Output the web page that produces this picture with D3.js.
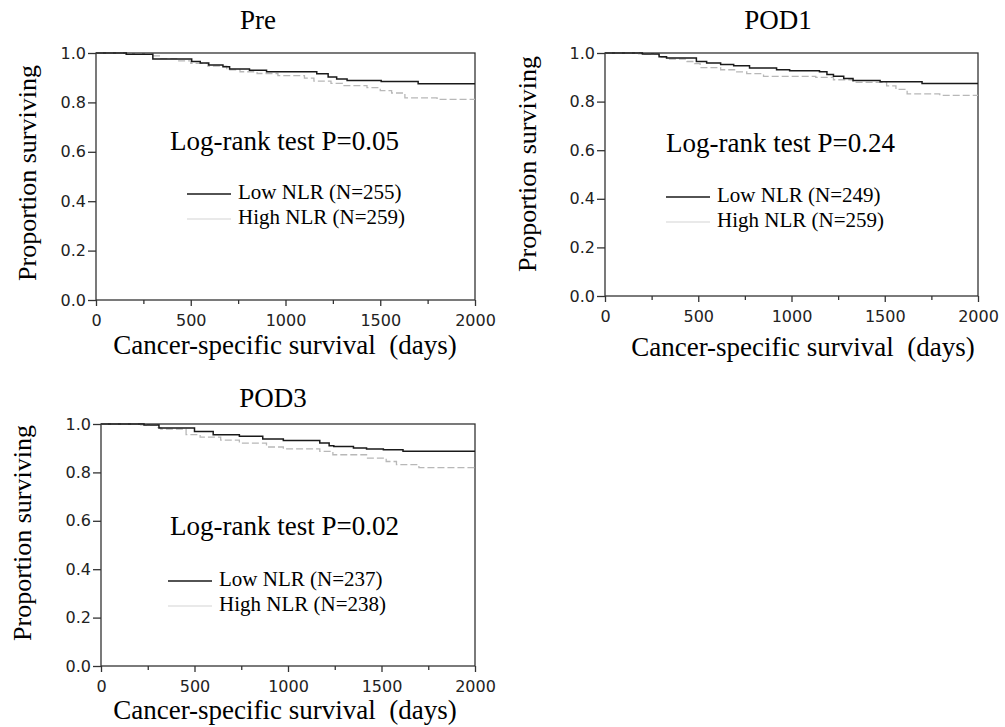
<!DOCTYPE html>
<html>
<head>
<meta charset="utf-8">
<script src="https://cdn.jsdelivr.net/npm/d3@7"></script>
<style>
body { margin: 0; background: #fff; }
</style>
</head>
<body>
<script>
// panel labels and stats
var panelTitles = ['Pre', 'POD1', 'POD3'];
var pValues = ['0.05', '0.24', '0.02'];
var lowN = [255, 249, 237];
var highN = [259, 259, 238];
var xTicks = [0, 500, 1000, 1500, 2000];
var xMinorTicks = [250, 750, 1250, 1750];
var yTicks = [0, 0.2, 0.4, 0.6, 0.8, 1.0];

// Kaplan-Meier steps: [day, proportion surviving]
var preLow = [[0,1],[160,0.995],[300,0.976],[505,0.966],[550,0.96],[595,0.951],[670,0.944],[705,0.935],[810,0.93],[900,0.924],[1165,0.916],[1225,0.903],[1270,0.895],[1325,0.889],[1505,0.885],[1700,0.876],[2000,0.876]];
var preHigh = [[0,1],[150,0.996],[290,0.988],[340,0.977],[430,0.968],[500,0.958],[590,0.947],[690,0.932],[760,0.924],[850,0.917],[960,0.908],[1100,0.898],[1150,0.886],[1240,0.877],[1300,0.868],[1430,0.86],[1500,0.848],[1560,0.838],[1630,0.818],[1800,0.812],[2000,0.812]];
var pod1Low = [[0,1],[200,0.996],[290,0.985],[330,0.979],[490,0.965],[545,0.959],[620,0.953],[690,0.948],[775,0.938],[920,0.931],[990,0.927],[1150,0.923],[1190,0.912],[1225,0.904],[1280,0.895],[1330,0.887],[1475,0.882],[1700,0.874],[2000,0.874]];
var pod1High = [[0,1],[180,0.996],[290,0.982],[330,0.975],[440,0.965],[480,0.956],[510,0.94],[620,0.931],[700,0.922],[760,0.915],[850,0.904],[1130,0.9],[1225,0.89],[1330,0.879],[1510,0.865],[1560,0.85],[1620,0.832],[1795,0.826],[2000,0.826]];
var pod3Low = [[0,1],[230,0.996],[310,0.983],[500,0.969],[600,0.956],[740,0.949],[865,0.938],[975,0.932],[1170,0.921],[1220,0.91],[1245,0.907],[1350,0.901],[1420,0.897],[1510,0.894],[1615,0.887],[2000,0.887]];
var pod3High = [[0,1],[200,0.996],[300,0.985],[320,0.979],[455,0.956],[530,0.946],[640,0.933],[740,0.921],[885,0.905],[975,0.897],[1170,0.887],[1240,0.873],[1420,0.859],[1525,0.845],[1580,0.832],[1700,0.82],[2000,0.818]];

var lowSeries = [preLow, pod1Low, pod3Low];
var highSeries = [preHigh, pod1High, pod3High];

// where each panel sits on the page
var layout = [
    { left: 96, right: 475, top: 53, bottom: 300, titleX: 258, titleY: 29, ylabX: 36, ylabY: 173, xlabX: 285, xlabY: 354, logX: 170, logY: 150, legX: 187, legY: 199 },
    { left: 605, right: 978, top: 53, bottom: 296, titleX: 778, titleY: 29, ylabX: 536, ylabY: 164, xlabX: 803, xlabY: 356, logX: 666, logY: 152, legX: 666, legY: 202 },
    { left: 101, right: 475, top: 424, bottom: 666, titleX: 273, titleY: 407, ylabX: 31, ylabY: 533, xlabX: 285, xlabY: 719, logX: 170, logY: 535, legX: 168, legY: 586 }
];

var serif = '"Liberation Serif", "Times New Roman", serif';
var sans = '"DejaVu Sans", Verdana, sans-serif';
var axisColor = '#333';
var lowColor = '#1a1a1a';
var highColor = '#b8b8b8';

var svg = d3.select('body').append('svg')
    .attr('width', 1005)
    .attr('height', 727)
    .style('background', '#fff');

layout.forEach(function(p, i) {
    var x = d3.scaleLinear().domain([0, 2000]).range([p.left, p.right]);
    var y = d3.scaleLinear().domain([0, 1]).range([p.bottom, p.top]);

    var g = svg.append('g');

    // frame
    g.append('rect')
        .attr('x', p.left)
        .attr('y', p.top)
        .attr('width', p.right - p.left)
        .attr('height', p.bottom - p.top)
        .attr('fill', 'none')
        .attr('stroke', axisColor)
        .attr('stroke-width', 1.3);

    g.append('g')
        .attr('transform', 'translate(0,' + p.bottom + ')')
        .call(d3.axisBottom(x).tickValues(xTicks).tickSize(6).tickPadding(9).tickFormat(d3.format('d')));
    g.append('g')
        .attr('transform', 'translate(0,' + p.bottom + ')')
        .call(d3.axisBottom(x).tickValues(xMinorTicks).tickSize(4).tickFormat(''));

    g.append('g')
        .attr('transform', 'translate(' + p.left + ',0)')
        .call(d3.axisLeft(y).tickValues(yTicks).tickSize(8).tickPadding(2).tickFormat(d3.format('.1f')));

    g.selectAll('.domain').remove();
    g.selectAll('.tick line').attr('stroke', axisColor).attr('stroke-width', 1.3);
    g.selectAll('.tick text')
        .attr('fill', '#222')
        .style('font-family', sans)
        .style('font-size', '16px');

    var line = d3.line()
        .curve(d3.curveStepAfter)
        .x(function(d) { return x(d[0]); })
        .y(function(d) { return y(d[1]); });

    g.append('path')
        .datum(highSeries[i])
        .attr('d', line)
        .attr('fill', 'none')
        .attr('stroke', highColor)
        .attr('stroke-width', 1.3)
        .attr('stroke-dasharray', '7,3');

    g.append('path')
        .datum(lowSeries[i])
        .attr('d', line)
        .attr('fill', 'none')
        .attr('stroke', lowColor)
        .attr('stroke-width', 1.5);

    // titles
    g.append('text')
        .attr('x', p.titleX)
        .attr('y', p.titleY)
        .attr('text-anchor', 'middle')
        .style('font-family', serif)
        .style('font-size', '27px')
        .text(panelTitles[i]);

    g.append('text')
        .attr('transform', 'translate(' + p.ylabX + ',' + p.ylabY + ') rotate(-90)')
        .attr('text-anchor', 'middle')
        .style('font-family', serif)
        .style('font-size', '26px')
        .text('Proportion surviving');

    g.append('text')
        .attr('x', p.xlabX)
        .attr('y', p.xlabY)
        .attr('text-anchor', 'middle')
        .style('font-family', serif)
        .style('font-size', '27px')
        .style('white-space', 'pre')
        .text('Cancer-specific survival  (days)');

    g.append('text')
        .attr('x', p.logX)
        .attr('y', p.logY)
        .style('font-family', serif)
        .style('font-size', '27px')
        .text('Log-rank test P=' + pValues[i]);

    // legend
    var legend = [
        { label: 'Low NLR (N=' + lowN[i] + ')', color: lowColor, w: 1.5 },
        { label: 'High NLR (N=' + highN[i] + ')', color: '#d4d4d4', w: 1.2 }
    ];
    legend.forEach(function(l, j) {
        var ly = p.legY + j * 25;
        g.append('line')
            .attr('x1', p.legX)
            .attr('x2', p.legX + 44)
            .attr('y1', ly - 5)
            .attr('y2', ly - 5)
            .attr('stroke', l.color)
            .attr('stroke-width', l.w);
        g.append('text')
            .attr('x', p.legX + 51)
            .attr('y', ly)
            .style('font-family', serif)
            .style('font-size', '21px')
            .text(l.label);
    });
});
</script>
</body>
</html>
